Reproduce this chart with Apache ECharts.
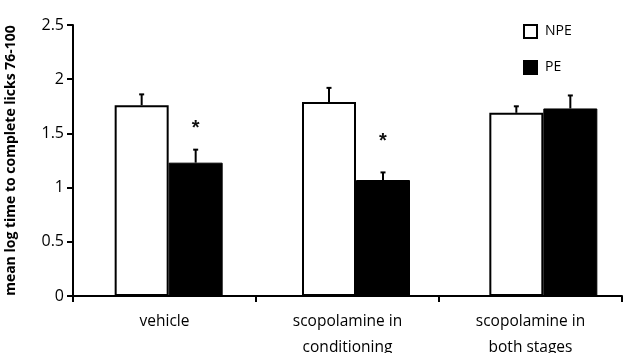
<!DOCTYPE html>
<html>
<head>
<meta charset="utf-8">
<script src="https://cdn.jsdelivr.net/npm/echarts@6/dist/echarts.min.js"></script>
<style>html,body{margin:0;padding:0;background:#fff}#c{width:636px;height:353px}</style>
</head>
<body>
<div id="c"></div>
<script>
var categories = ['vehicle', 'scopolamine in\nconditioning', 'scopolamine in\nboth stages'];
var npeValues = [1.76, 1.79, 1.69];
var npeErrors = [0.10, 0.13, 0.06];
var peValues = [1.23, 1.07, 1.73];
var peErrors = [0.12, 0.07, 0.12];
var starValues = [1.58, 1.46, null];
var yTicks = [0, 0.5, 1, 1.5, 2, 2.5];

var BAR_W = 54;
var FONT = '"Open Sans", Lato, sans-serif';

var errData = [];
npeValues.forEach(function (v, i) { errData.push([i, v, npeErrors[i], -1]); });
peValues.forEach(function (v, i) { errData.push([i, v, peErrors[i], 1]); });
var starData = [];
starValues.forEach(function (v, i) { if (v != null) starData.push([i, v]); });

var chart = echarts.init(document.getElementById('c'), null, {renderer: 'canvas'});
chart.setOption({
  animation: false,
  backgroundColor: '#fff',
  textStyle: {fontFamily: FONT},
  legend: {
    orient: 'vertical', left: 518, top: 19, itemWidth: 13, itemHeight: 13, itemGap: 21,
    icon: 'rect',
    textStyle: {fontFamily: FONT, fontSize: 14, color: '#000', padding: [0, 0, 0, 3]},
    data: ['NPE', 'PE']
  },
  grid: [
    {left: 73, right: 14, top: 25, bottom: 57, outerBoundsMode: 'none', containLabel: false},
    {left: 75, right: -1, top: 25, bottom: 57, outerBoundsMode: 'none', containLabel: false}
  ],
  xAxis: [
    {type: 'category', gridIndex: 0, data: categories,
      axisLine: {lineStyle: {color: '#000', width: 2}},
      axisTick: {show: true, length: 6, lineStyle: {color: '#000', width: 2}},
      axisLabel: {fontFamily: FONT, fontSize: 15.5, color: '#000', lineHeight: 26, margin: 13, interval: 0}},
    {type: 'category', gridIndex: 1, data: categories, show: false}
  ],
  yAxis: [
    {type: 'value', gridIndex: 0, min: 0, max: 2.5, interval: 0.5,
      name: 'mean log time to complete licks 76-100', nameLocation: 'middle', nameGap: 55,
      nameTextStyle: {fontFamily: FONT, fontSize: 14, fontWeight: 'bold', color: '#000'},
      axisLine: {show: true, lineStyle: {color: '#000', width: 2}},
      axisTick: {show: true, length: 6, lineStyle: {color: '#000', width: 2}},
      splitLine: {show: false},
      axisLabel: {fontFamily: FONT, fontSize: 16, color: '#000', margin: 9,
        formatter: function (v) { return yTicks.indexOf(v) >= 0 ? String(v) : ''; }}},
    {type: 'value', gridIndex: 1, min: 0, max: 2.5, show: false}
  ],
  series: [
    {name: 'NPE', type: 'bar', xAxisIndex: 1, yAxisIndex: 1, data: npeValues,
      barWidth: BAR_W, barGap: '0%',
      itemStyle: {color: '#fff', borderColor: '#000', borderWidth: 2}},
    {name: 'PE', type: 'bar', xAxisIndex: 1, yAxisIndex: 1, data: peValues,
      barWidth: BAR_W, barGap: '0%',
      itemStyle: {color: '#000', borderColor: '#000', borderWidth: 1}},
    {type: 'custom', xAxisIndex: 1, yAxisIndex: 1, data: errData, z: 5,
      renderItem: function (params, api) {
        var ci = api.value(0), m = api.value(1), e = api.value(2), s = api.value(3);
        var b = api.coord([ci, m]);
        var t = api.coord([ci, m + e]);
        var x = b[0] + s * BAR_W / 2;
        return {type: 'group', children: [
          {type: 'line', shape: {x1: x, y1: b[1], x2: x, y2: t[1]}, style: {stroke: '#000', lineWidth: 2}},
          {type: 'line', shape: {x1: x - 2.5, y1: t[1], x2: x + 2.5, y2: t[1]}, style: {stroke: '#000', lineWidth: 2}}
        ]};
      }},
    {type: 'custom', xAxisIndex: 1, yAxisIndex: 1, data: starData, z: 5,
      renderItem: function (params, api) {
        var p = api.coord([api.value(0), api.value(1)]);
        return {type: 'text', x: p[0] + BAR_W / 2, y: p[1] + 4,
          style: {text: '*', fontSize: 20, fontWeight: 'bold', fontFamily: 'Liberation Sans, sans-serif',
            fill: '#111', align: 'center', verticalAlign: 'middle'}};
      }}
  ]
});
</script>
</body>
</html>
